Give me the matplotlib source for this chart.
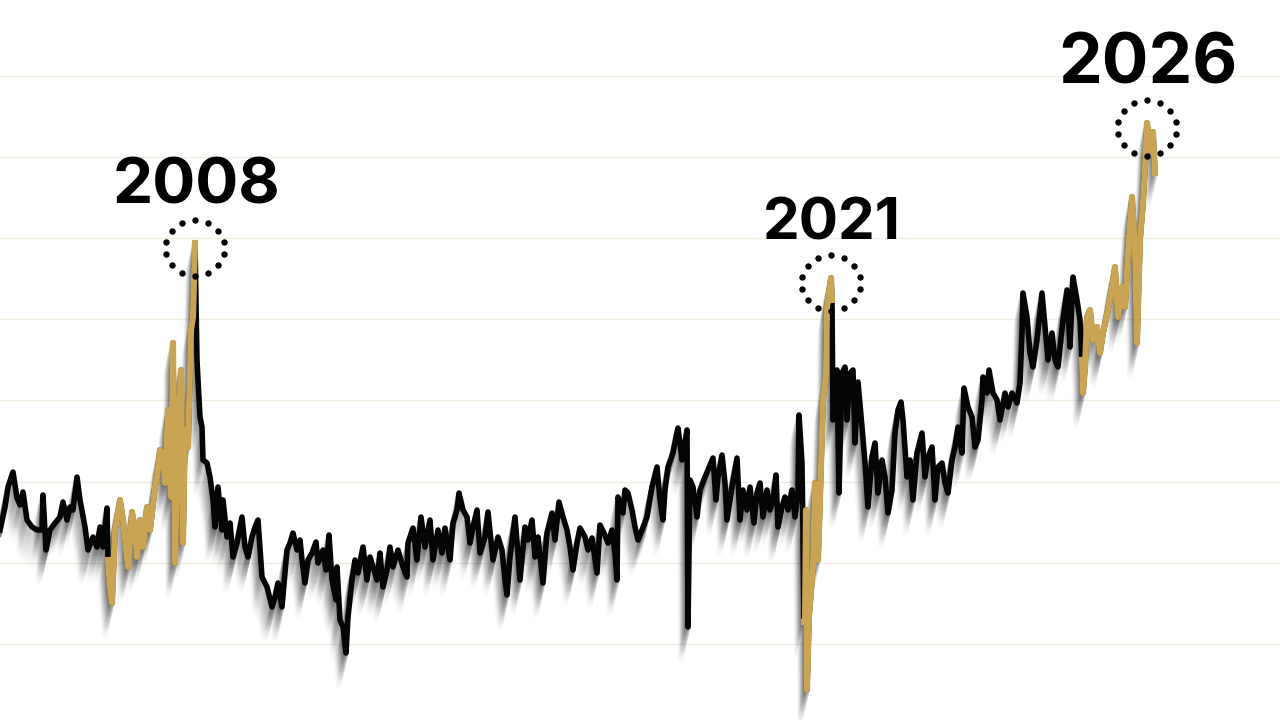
import numpy as np
import matplotlib
matplotlib.use("Agg")
import matplotlib.pyplot as plt

# time axis (weekly steps, in chart x units) and level of the series
weeks = [0, 5, 8, 13, 17, 20, 23, 27, 32, 37, 42, 43, 46, 50, 55, 60, 63, 67, 70, 73,
         77, 80, 85, 88, 93, 97, 100, 103, 107, 108, 110,
         112, 115, 120, 123, 128, 132, 135, 137, 140, 143, 147, 150, 155, 157, 160, 163,
         165, 168, 171, 173, 175, 178, 181, 183, 185, 188, 191, 193, 195,
         197, 198, 200, 202, 203, 207, 210, 213, 215, 218, 222, 223, 227, 230, 233, 237,
         242, 245, 248, 252, 255, 258, 262, 267, 272, 275, 278, 282, 287, 290, 293, 297,
         300, 302, 305, 308, 312, 316, 318, 323, 326, 329, 332, 336, 337, 340, 343, 346,
         348, 352, 355, 358, 363, 367, 370, 373, 377, 380, 383, 387, 390, 393, 398, 403,
         407, 408, 413, 417, 421, 425, 430, 433, 438, 442, 445, 450, 453, 457, 459, 463,
         467, 470, 473, 477, 480, 485, 488, 493, 498, 502, 505, 507, 510, 515, 520, 525,
         528, 532, 535, 538, 543, 547, 552, 555, 559, 563, 567, 570, 573, 577, 580, 585,
         588, 592, 597, 600, 604, 608, 612, 615, 617, 618, 623, 625, 628, 632, 635, 638,
         642, 647, 652, 657, 660, 663, 665, 668, 673, 676, 678, 682, 685, 687, 688, 690,
         693, 697, 700, 705, 708, 713, 716, 718, 722, 725, 727, 732, 737, 740, 743, 747,
         750, 754, 757, 760, 763, 767, 770, 773, 776, 778, 782, 785, 788, 792, 795, 798,
         799, 802, 803, 804,
         805, 806, 807, 809, 813, 815, 818, 820, 823, 826, 827, 831, 832,
         833, 837, 839, 842, 845, 847, 850, 853, 855, 858, 862, 865, 868, 872, 875, 878,
         882, 885, 888, 892, 895, 898, 901, 903, 907, 910, 913, 917, 922, 925, 928, 932,
         935, 938, 942, 945, 948, 952, 955, 958, 962, 964, 968, 972, 975, 978, 982, 983,
         987, 989, 993, 997, 1000, 1005, 1008, 1012, 1017, 1020, 1022, 1023, 1027, 1030,
         1033, 1037, 1042, 1045, 1048, 1052, 1055, 1058, 1063, 1067, 1070, 1073, 1077,
         1080, 1082,
         1083, 1085, 1087, 1090, 1093, 1097, 1100, 1103, 1108, 1112, 1115, 1118, 1122,
         1125, 1128, 1132, 1135, 1137, 1140, 1143, 1145, 1147, 1150, 1153, 1155]

level = [190, 213, 233, 248, 222, 215, 228, 200, 193, 190, 190, 225, 170, 190, 197, 203, 218, 200, 213, 210,
         243, 220, 193, 170, 183, 173, 193, 173, 212, 160, 133,
         117, 190, 220, 200, 153, 208, 190, 163, 200, 173, 213, 190, 233, 243, 270, 263,
         237, 310, 223, 377, 157, 290, 350, 177, 290, 273, 390, 403, 477,
         360, 340, 303, 293, 260, 257, 243, 220, 193, 233, 190, 220, 183, 197, 163, 177,
         203, 173, 163, 183, 193, 200, 143, 133, 113, 123, 137, 113, 170, 177, 187, 170,
         180, 160, 137, 160, 167, 178, 157, 170, 150, 185, 140, 120, 153, 100, 93, 67,
         103, 140, 160, 147, 173, 140, 163, 153, 140, 167, 133, 150, 173, 153, 170, 153,
         143, 177, 192, 160, 203, 173, 200, 160, 190, 167, 192, 160, 197, 210, 227, 210,
         203, 177, 193, 210, 167, 183, 208, 160, 183, 170, 140, 125, 163, 203, 140, 193,
         180, 200, 163, 183, 137, 187, 207, 180, 218, 203, 190, 173, 150, 177, 192, 183,
         170, 182, 147, 195, 187, 177, 190, 167, 140, 223, 207, 230, 227, 210, 193, 180,
         190, 203, 233, 253, 220, 200, 230, 253, 267, 283, 292, 260, 277, 290, 93, 240,
         233, 203, 230, 243, 250, 262, 220, 243, 265, 237, 200, 233, 262, 200, 230, 210,
         233, 197, 227, 237, 203, 230, 210, 220, 245, 193, 213, 223, 210, 230, 203, 227,
         305, 257, 187, 98,
         98, 210, 30, 103, 153, 237, 160, 220, 320, 345, 413, 442, 420,
         300, 350, 227, 347, 353, 300, 347, 350, 277, 338, 293, 257, 213, 263, 277, 227,
         260, 243, 207, 230, 287, 310, 318, 300, 243, 260, 220, 267, 287, 243, 263, 273,
         220, 253, 257, 237, 227, 260, 273, 293, 267, 332, 313, 303, 273, 280, 320, 343,
         327, 350, 327, 320, 300, 327, 313, 327, 317, 337, 387, 427, 403, 367,
         353, 380, 427, 393, 360, 387, 360, 353, 400, 430, 373, 443, 420,
         400, 360,
         327, 353, 403, 410, 380, 393, 367, 387, 410, 433, 453, 403, 433,
         413, 467, 523, 470, 377, 480, 517, 553, 597, 570, 588, 547]

# highlighted spells (start week, end week) and their labels
spells = [(110, 195), (805, 832), (1083, 1160)]
spell_labels = ["2008", "2021", "2026"]

BLACK = "#050505"
GOLD = "#C9A452"
GRID = "#F1EEE2"
label_sizes = [46, 42, 50]

x = np.array(weeks, dtype=float)
y = np.array(level, dtype=float)

fig = plt.figure(figsize=(12.8, 7.2), dpi=100)
ax = fig.add_axes([0, 0, 1, 1])
ax.set_xlim(0, 1280)
ax.set_ylim(0, 720)
ax.axis("off")

# faint horizontal grid
for g in np.arange(76, 650, 81.2):
    ax.axhline(g, color=GRID, lw=1, zorder=0)

# soft drop shadow, smeared down and to the left
for k in range(1, 20):
    ax.plot(x - k * 0.4, y - k * 1.8, color="#000000", alpha=0.07 * (1 - k / 21),
            lw=4.0, zorder=1, solid_joinstyle="round")

ax.plot(x, y, color=BLACK, lw=4.0, zorder=3, solid_joinstyle="round")

theta = np.linspace(0, 2 * np.pi, 15)[:-1] + np.pi / 2
for (a, b), lab, fs in zip(spells, spell_labels, label_sizes):
    m = (x >= a) & (x <= b)
    idx = np.where(m)[0]
    seg = slice(max(idx[0] - 1, 0), idx[-1] + 1)
    ax.plot(x[seg], y[seg], color=GOLD, lw=4.4, zorder=4, solid_joinstyle="round")
    # dotted circle around the peak of the spell
    ip = idx[np.argmax(y[idx])]
    cx, cy = x[ip], y[ip] - 5
    ax.plot(cx + 30 * np.cos(theta), cy + 28 * np.sin(theta), "o", color="black",
            ms=3.6, zorder=5)
    ax.text(cx + 1, cy + 44, lab, ha="center", va="baseline", fontsize=fs,
            fontweight="bold", family=["Inter", "DejaVu Sans"], color="black", zorder=6)

fig.savefig("out.png", dpi=100, facecolor="white")
